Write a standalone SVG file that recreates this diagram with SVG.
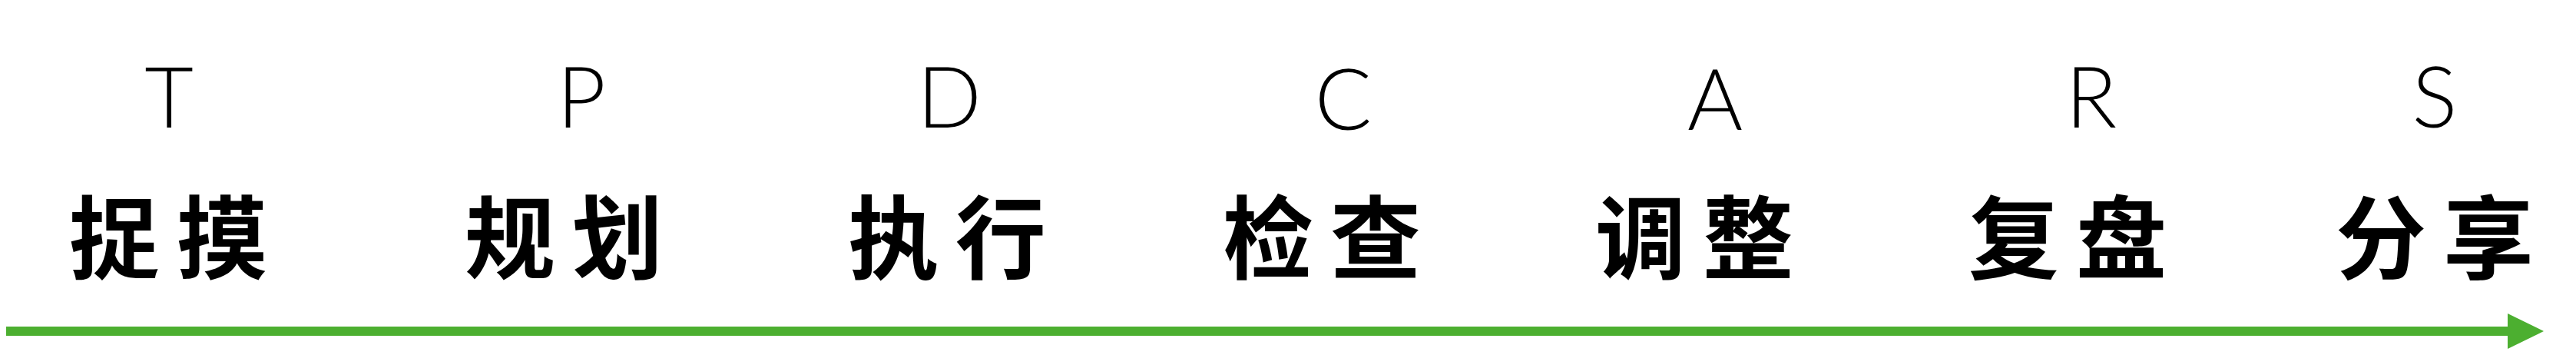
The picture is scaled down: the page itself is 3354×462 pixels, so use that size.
<svg xmlns="http://www.w3.org/2000/svg" width="3354" height="462" viewBox="0 0 3354 462">
<style>
.bg{fill:#ffffff}
.ltr{font-family:Lato,"Noto Sans","DejaVu Sans",sans-serif;font-weight:300;font-size:110px;fill:#000000;text-anchor:middle}
.zh{font-family:"Noto Sans CJK SC","Noto Sans CJK TC",sans-serif;font-weight:700;font-size:118px;fill:#000000}
.axis{stroke:#4CAF30;stroke-width:12;fill:none}
.head{fill:#4CAF30}
</style>
<rect class="bg" x="0" y="0" width="3354" height="462"/>
<g id="connectors">
<line class="axis" x1="8" y1="431" x2="3270" y2="431"/>
<polygon class="head" points="3265,408 3312,431 3265,454"/>
</g>
<g id="node-T">
<text class="ltr" x="220" y="166">T</text>
<text class="zh" x="90 230" y="354">捉摸</text>
</g>
<g id="node-P">
<text class="ltr" x="757" y="166">P</text>
<text class="zh" x="605 745" y="354">规划</text>
</g>
<g id="node-D">
<text class="ltr" x="1236" y="166">D</text>
<text class="zh" x="1104 1244" y="354">执行</text>
</g>
<g id="node-C">
<text class="ltr" x="1749" y="169">C</text>
<text class="zh" x="1592 1732" y="354">检查</text>
</g>
<g id="node-A">
<text class="ltr" x="2233" y="169">A</text>
<text class="zh" x="2077 2217" y="354">调整</text>
</g>
<g id="node-R">
<text class="ltr" x="2723" y="166">R</text>
<text class="zh" x="2563 2703" y="354">复盘</text>
</g>
<g id="node-S">
<text class="ltr" x="3170" y="166">S</text>
<text class="zh" x="3041 3181" y="354">分享</text>
</g>
</svg>
